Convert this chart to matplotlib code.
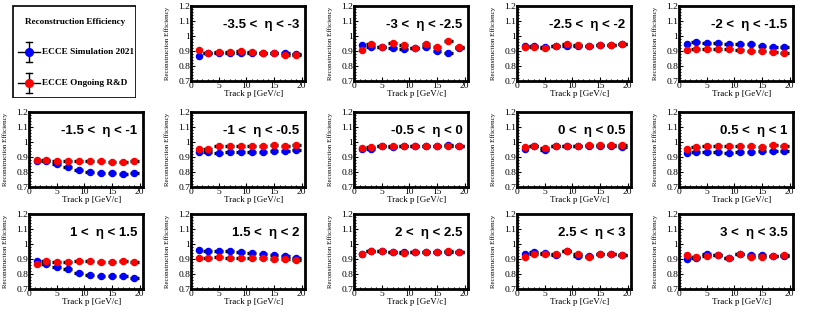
import matplotlib
matplotlib.use('Agg')
import matplotlib.pyplot as plt
import numpy as np
from matplotlib.ticker import AutoMinorLocator, FuncFormatter
from matplotlib.patches import Rectangle

# ================= Data =================
p_centers = [1.5, 3, 5, 7, 9, 11, 13, 15, 17, 19]
p_halfwidth = [0.5, 0.8, 0.8, 0.8, 0.8, 0.8, 0.8, 0.8, 0.8, 0.8]

eta_labels = [
    "-3.5 <  \u03b7 < -3", "-3 <  \u03b7 < -2.5", "-2.5 <  \u03b7 < -2", "-2 <  \u03b7 < -1.5",
    "-1.5 <  \u03b7 < -1", "-1 <  \u03b7 < -0.5", "-0.5 <  \u03b7 < 0", "0 <  \u03b7 < 0.5", "0.5 <  \u03b7 < 1",
    "1 <  \u03b7 < 1.5", "1.5 <  \u03b7 < 2", "2 <  \u03b7 < 2.5", "2.5 <  \u03b7 < 3", "3 <  \u03b7 < 3.5",
]

eff_sim = [
    [0.865, 0.885, 0.885, 0.89, 0.885, 0.89, 0.885, 0.885, 0.885, 0.88],
    [0.94, 0.925, 0.925, 0.92, 0.915, 0.92, 0.925, 0.90, 0.89, 0.92],
    [0.935, 0.935, 0.925, 0.935, 0.935, 0.935, 0.935, 0.94, 0.94, 0.95],
    [0.95, 0.96, 0.955, 0.955, 0.95, 0.95, 0.945, 0.935, 0.93, 0.93],
    [0.875, 0.87, 0.855, 0.83, 0.81, 0.80, 0.795, 0.79, 0.785, 0.79],
    [0.935, 0.93, 0.925, 0.93, 0.935, 0.93, 0.935, 0.94, 0.94, 0.945],
    [0.955, 0.95, 0.97, 0.965, 0.975, 0.975, 0.975, 0.975, 0.98, 0.975],
    [0.95, 0.97, 0.945, 0.97, 0.97, 0.975, 0.975, 0.975, 0.975, 0.965],
    [0.925, 0.93, 0.93, 0.93, 0.928, 0.935, 0.935, 0.94, 0.94, 0.94],
    [0.89, 0.87, 0.85, 0.835, 0.81, 0.795, 0.79, 0.79, 0.785, 0.775],
    [0.96, 0.955, 0.955, 0.95, 0.945, 0.94, 0.93, 0.925, 0.92, 0.91],
    [0.935, 0.955, 0.95, 0.945, 0.945, 0.945, 0.945, 0.945, 0.945, 0.945],
    [0.93, 0.945, 0.94, 0.925, 0.95, 0.92, 0.92, 0.935, 0.93, 0.925],
    [0.90, 0.905, 0.93, 0.925, 0.91, 0.93, 0.925, 0.925, 0.92, 0.92],
]

eff_rnd = [
    [0.905, 0.885, 0.895, 0.895, 0.90, 0.895, 0.885, 0.89, 0.875, 0.875],
    [0.91, 0.95, 0.93, 0.955, 0.94, 0.92, 0.945, 0.93, 0.965, 0.93],
    [0.93, 0.93, 0.92, 0.935, 0.945, 0.94, 0.935, 0.94, 0.94, 0.95],
    [0.91, 0.912, 0.912, 0.912, 0.915, 0.908, 0.90, 0.90, 0.895, 0.888],
    [0.878, 0.88, 0.875, 0.872, 0.87, 0.872, 0.872, 0.867, 0.865, 0.875],
    [0.955, 0.95, 0.975, 0.97, 0.97, 0.972, 0.975, 0.978, 0.975, 0.978],
    [0.96, 0.965, 0.97, 0.975, 0.975, 0.975, 0.975, 0.975, 0.975, 0.975],
    [0.965, 0.97, 0.96, 0.97, 0.972, 0.975, 0.978, 0.978, 0.978, 0.98],
    [0.955, 0.965, 0.97, 0.972, 0.972, 0.97, 0.97, 0.968, 0.978, 0.975],
    [0.87, 0.885, 0.88, 0.88, 0.885, 0.888, 0.882, 0.878, 0.888, 0.878],
    [0.905, 0.91, 0.912, 0.91, 0.908, 0.908, 0.905, 0.902, 0.90, 0.895],
    [0.935, 0.95, 0.955, 0.945, 0.94, 0.945, 0.945, 0.945, 0.95, 0.945],
    [0.915, 0.93, 0.935, 0.93, 0.955, 0.935, 0.915, 0.93, 0.935, 0.925],
    [0.925, 0.915, 0.92, 0.925, 0.91, 0.935, 0.915, 0.915, 0.92, 0.925],
]

legend_labels = ["ECCE Simulation 2021", "ECCE Ongoing R&D"]
colors = ["#0000ff", "#ff0000"]

# ================= Figure =================
W, H = 814, 312
fig = plt.figure(figsize=(W / 100, H / 100), dpi=100)
serif = "Liberation Serif"
sans = "Liberation Sans"

col_left = [29, 191, 354, 517, 679]
row_top = [6, 112, 214]
ax_w, ax_h = 114, 75


def px_rect(x, y, w, h):
    return [x / W, 1 - (y + h) / H, w / W, h / H]


# ================= Legend box =================
lax = fig.add_axes(px_rect(12, 5, 124, 93))
lax.set_xlim(0, 124)
lax.set_ylim(93, 0)
lax.axis('off')
lax.add_patch(Rectangle((0.5, 0.5), 123, 92, fill=False, lw=1.2, ec='k'))
lax.text(63, 17, "Reconstruction Efficiency", family=serif, weight='bold',
         fontsize=6.6, ha='center', va='center')
for yy, c, lab in zip([47, 78], colors, legend_labels):
    lax.plot([6, 28], [yy, yy], color='k', lw=1.0)
    lax.plot([17, 17], [yy - 10, yy + 10], color='k', lw=1.0)
    lax.plot([14, 20], [yy - 10, yy - 10], color='k', lw=1.0)
    lax.plot([14, 20], [yy + 10, yy + 10], color='k', lw=1.0)
    lax.plot([17], [yy], 'o', color=c, ms=5.5)
    lax.text(30, yy, lab, family=serif, weight='bold', fontsize=6.7,
             ha='left', va='center')

# ================= Panels =================
slots = [(r, c) for r in range(3) for c in range(5)][1:]
for i, (r, c) in enumerate(slots):
    ax = fig.add_axes(px_rect(col_left[c], row_top[r], ax_w, ax_h))
    for vals, col in zip([eff_sim[i], eff_rnd[i]], colors):
        ax.errorbar(p_centers, vals, xerr=p_halfwidth, yerr=0.004, fmt='none',
                    ecolor='k', elinewidth=2.4, capsize=0, zorder=2)
        ax.plot(p_centers, vals, 'o', color=col, ms=4.4, zorder=3)
    ax.set_xlim(0, 20.6)
    ax.set_ylim(0.7, 1.2)
    ax.set_xticks([0, 5, 10, 15, 20])
    ax.set_yticks([0.7, 0.8, 0.9, 1.0, 1.1, 1.2])
    ax.xaxis.set_minor_locator(AutoMinorLocator(5))
    ax.yaxis.set_minor_locator(AutoMinorLocator(5))
    ax.yaxis.set_major_formatter(FuncFormatter(lambda v, pos: f"{v:g}"))
    ax.tick_params(which='both', direction='in', width=0.8, labelsize=6.8, pad=0.5)
    ax.tick_params(which='major', length=3)
    ax.tick_params(which='minor', length=1.5)
    for lab in ax.get_xticklabels() + ax.get_yticklabels():
        lab.set_family(serif)
    for sp in ax.spines.values():
        sp.set_linewidth(2)
    ax.set_xlabel("Track p [GeV/c]", family=serif, fontsize=6.5)
    ax.xaxis.set_label_coords(0.55, -0.115)
    ax.set_ylabel("Reconstruction Efficiency", family=serif, fontsize=5.0)
    ax.yaxis.set_label_coords(-0.18, 0.5)
    ax.text(0.95, 0.75, eta_labels[i], transform=ax.transAxes, ha='right',
            va='center', family=sans, weight='bold', fontsize=9.5)

fig.savefig("out.png", dpi=100)
